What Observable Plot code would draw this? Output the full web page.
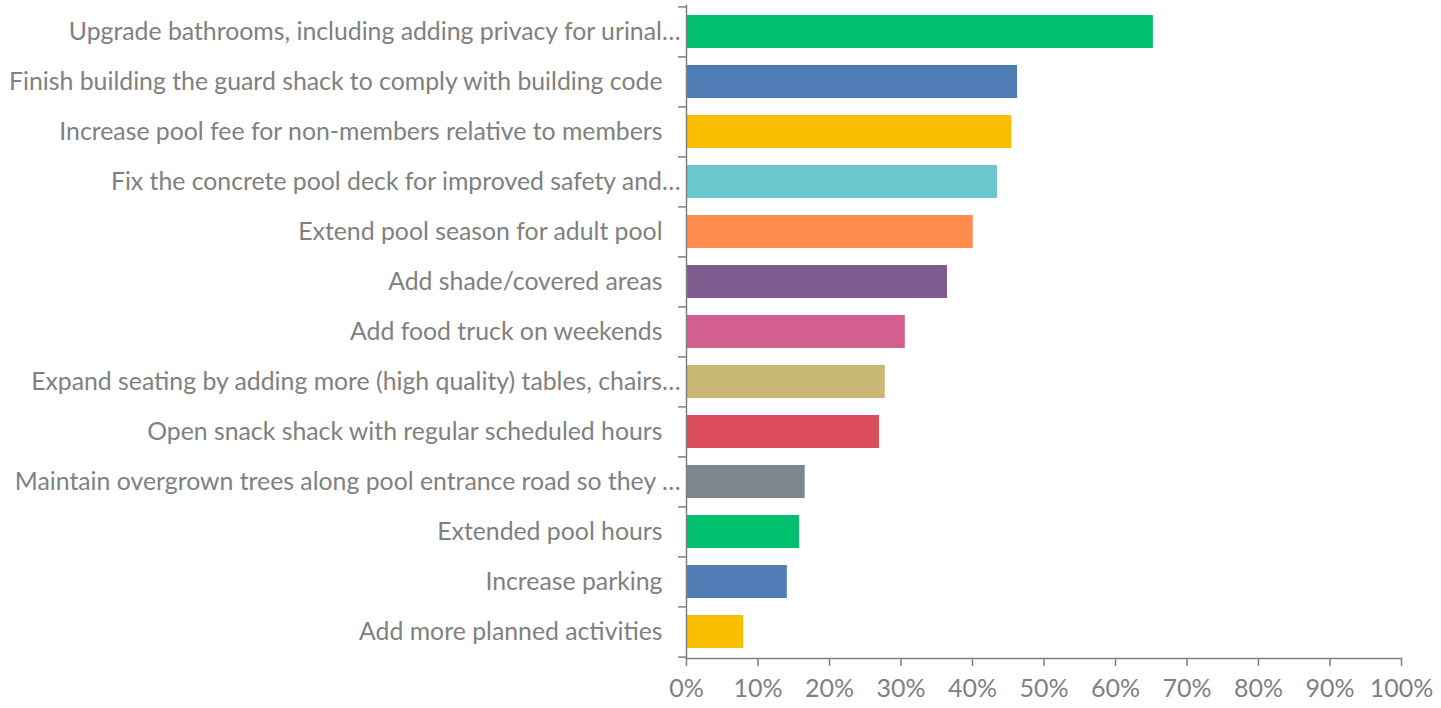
<!DOCTYPE html>
<html><head><meta charset="utf-8">
<script src="https://cdn.jsdelivr.net/npm/d3@7"></script>
<script src="https://cdn.jsdelivr.net/npm/@observablehq/plot@0.6"></script>
<style>body{margin:0;background:#fff;} svg{display:block;}</style>
</head><body><div id="chart"></div>
<script>
const categories = [
  "Upgrade bathrooms, including adding privacy for urinal…",
  "Finish building the guard shack to comply with building code",
  "Increase pool fee for non-members relative to members",
  "Fix the concrete pool deck for improved safety and…",
  "Extend pool season for adult pool",
  "Add shade/covered areas",
  "Add food truck on weekends",
  "Expand seating by adding more (high quality) tables, chairs…",
  "Open snack shack with regular scheduled hours",
  "Maintain overgrown trees along pool entrance road so they …",
  "Extended pool hours",
  "Increase parking",
  "Add more planned activities"
];
const values = [0.653, 0.463, 0.455, 0.435, 0.401, 0.365, 0.306, 0.278, 0.270, 0.166, 0.158, 0.141, 0.080];
const colors = ["#00BF6F","#507CB6","#F9BE00","#6BC8CD","#FF8B4F","#7F5A8E","#D25F90","#C9B776","#DB4D5C","#7D868C","#00BF6F","#507CB6","#F9BE00"];
const xTicks = [0,0.1,0.2,0.3,0.4,0.5,0.6,0.7,0.8,0.9,1.0];

const W = 1441, H = 708, mT = 5, mB = 50, mL = 686, mR = 40;
const step = (H - mT - mB) / categories.length;
const data = categories.map((c, i) => ({cat: c, value: values[i], color: colors[i]}));
const grey = "#808080";

const chart = Plot.plot({
  width: W, height: H,
  marginTop: mT, marginBottom: mB, marginLeft: mL, marginRight: mR,
  style: {fontFamily: "Lato, sans-serif", color: grey, background: "#fff", overflow: "visible"},
  x: {domain: [0, 1]},
  y: {domain: categories, paddingInner: 0.34, paddingOuter: 0.17},
  marks: [
    Plot.barX(data, {x: "value", y: "cat", fill: "color"}),
    Plot.frame({anchor: "left", stroke: grey, strokeWidth: 1.5}),
    Plot.frame({anchor: "bottom", stroke: grey, strokeWidth: 1.5}),
    Plot.ruleY(categories, {y: d => d, x1: 0, x2: 0, insetLeft: -8, dy: -step / 2, stroke: grey, strokeWidth: 1.5}),
    Plot.ruleY(categories.slice(-1), {y: d => d, x1: 0, x2: 0, insetLeft: -8, dy: step / 2, stroke: grey, strokeWidth: 1.5}),
    Plot.axisY({tickSize: 0, tickPadding: 24, fontSize: 24.8, fill: grey, label: null}),
    Plot.axisX({ticks: xTicks, tickFormat: d3.format(".0%"), tickSize: 8, tickPadding: 13,
      fontSize: 25, stroke: grey, strokeWidth: 1.5, fill: grey, label: null})
  ]
});
document.getElementById("chart").append(chart);
// truncated labels (ending with an ellipsis) sit closer to the axis
chart.querySelectorAll("g[aria-label='y-axis tick label'] text").forEach(t => {
  if (t.textContent.endsWith("…")) t.setAttribute("dx", 18);
});
</script></body></html>
